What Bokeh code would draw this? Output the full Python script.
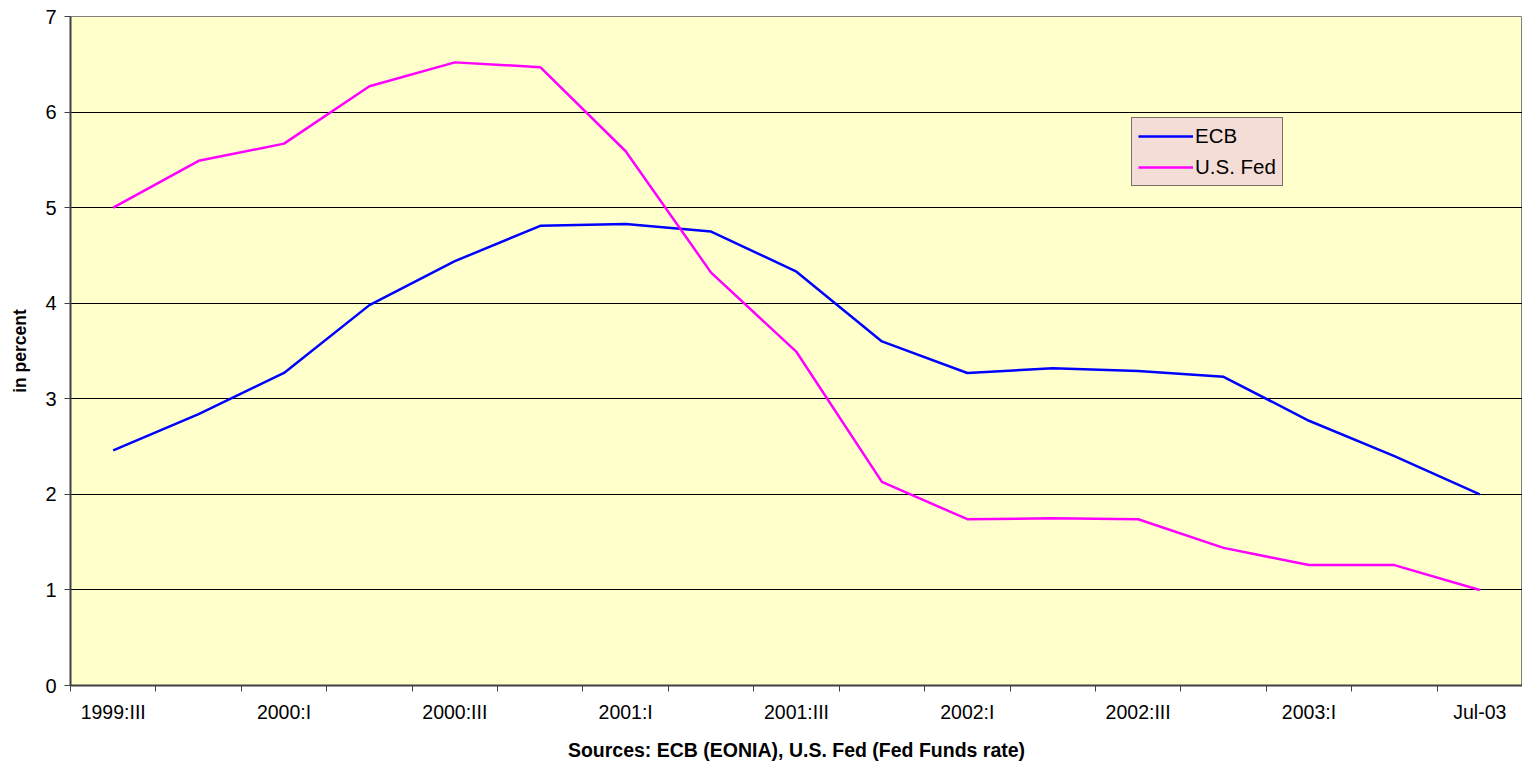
from bokeh.plotting import figure
from bokeh.models import FixedTicker, Legend, LegendItem, Range1d
from bokeh.embed import file_html
from bokeh.resources import INLINE

categories = ["1999:III", "1999:IV", "2000:I", "2000:II", "2000:III", "2000:IV",
              "2001:I", "2001:II", "2001:III", "2001:IV", "2002:I", "2002:II",
              "2002:III", "2002:IV", "2003:I", "2003:II", "Jul-03"]
ecb = [2.46, 2.84, 3.27, 3.98, 4.44, 4.81, 4.83, 4.75, 4.33, 3.60, 3.27, 3.32,
       3.29, 3.23, 2.77, 2.40, 2.00]
fed = [5.00, 5.49, 5.67, 6.27, 6.52, 6.47, 5.59, 4.32, 3.49, 2.13, 1.74, 1.75,
       1.74, 1.44, 1.26, 1.26, 1.00]
label_every = 2
y_ticks = [0, 1, 2, 3, 4, 5, 6, 7]

xs = list(range(len(categories)))

p = figure(frame_width=1452, frame_height=669, output_backend="svg",
           toolbar_location=None,
           x_range=Range1d(-0.5, len(categories) - 0.5), y_range=Range1d(0, 7),
           min_border_left=70, min_border_right=0, min_border_top=16,
           min_border_bottom=78)
p.background_fill_color = "#FFFFCC"
p.border_fill_color = "white"
p.outline_line_color = "#808080"
p.outline_line_width = 1

r1 = p.line(xs, ecb, line_color="#0000FF", line_width=2.5)
r2 = p.line(xs, fed, line_color="#FF00FF", line_width=2.5)

# x axis
major = xs[::label_every]
p.xaxis.ticker = FixedTicker(ticks=major, minor_ticks=[i - 0.5 for i in range(len(categories) + 1)])
p.xaxis.major_label_overrides = {i: categories[i] for i in major}
p.xaxis.major_tick_line_color = None
p.xaxis.major_tick_in = 0
p.xaxis.major_tick_out = 6
p.xaxis.minor_tick_in = 0
p.xaxis.minor_tick_out = 6
p.xaxis.minor_tick_line_color = "#404040"
p.xaxis.minor_tick_line_width = 1
p.xaxis.axis_line_color = "#404040"
p.xaxis.axis_line_width = 2
p.xaxis.major_label_text_font = "Liberation Sans"
p.xaxis.major_label_text_font_size = "19.5px"
p.xaxis.major_label_text_color = "black"
p.xaxis.major_label_standoff = 9
p.xaxis.axis_label = "Sources: ECB (EONIA), U.S. Fed (Fed Funds rate)"
p.xaxis.axis_label_text_font = "Liberation Sans"
p.xaxis.axis_label_text_font_size = "19.5px"
p.xaxis.axis_label_text_font_style = "bold"
p.xaxis.axis_label_text_color = "black"
p.xaxis.axis_label_standoff = 13

# y axis
p.yaxis.ticker = FixedTicker(ticks=y_ticks)
p.yaxis.minor_tick_line_color = None
p.yaxis.major_tick_in = 0
p.yaxis.major_tick_out = 6
p.yaxis.major_tick_line_color = "#404040"
p.yaxis.axis_line_color = "#404040"
p.yaxis.axis_line_width = 2
p.yaxis.major_label_text_font = "Liberation Sans"
p.yaxis.major_label_text_font_size = "20px"
p.yaxis.major_label_text_color = "black"
p.yaxis.major_label_standoff = 8
p.yaxis.axis_label = "in percent"
p.yaxis.axis_label_text_font = "Liberation Sans"
p.yaxis.axis_label_text_font_size = "17.5px"
p.yaxis.axis_label_text_font_style = "bold"
p.yaxis.axis_label_text_color = "black"
p.yaxis.axis_label_standoff = 12

p.xgrid.grid_line_color = None
p.ygrid.ticker = FixedTicker(ticks=y_ticks)
p.ygrid.grid_line_color = "black"
p.ygrid.grid_line_width = 1

legend = Legend(items=[LegendItem(label="ECB", renderers=[r1]),
                       LegendItem(label="U.S. Fed", renderers=[r2])],
                location=(1061, 499))
legend.background_fill_color = "#F5DDD7"
legend.background_fill_alpha = 1
legend.border_line_color = "black"
legend.border_line_width = 1
legend.label_text_font = "Liberation Sans"
legend.label_text_font_size = "20.5px"
legend.label_text_color = "black"
legend.glyph_width = 55
legend.glyph_height = 24
legend.label_height = 24
legend.spacing = 7
legend.padding = 6
legend.margin = 0
legend.label_standoff = 2
p.add_layout(legend, "center")

open("out.html", "w").write(file_html(p, INLINE))
